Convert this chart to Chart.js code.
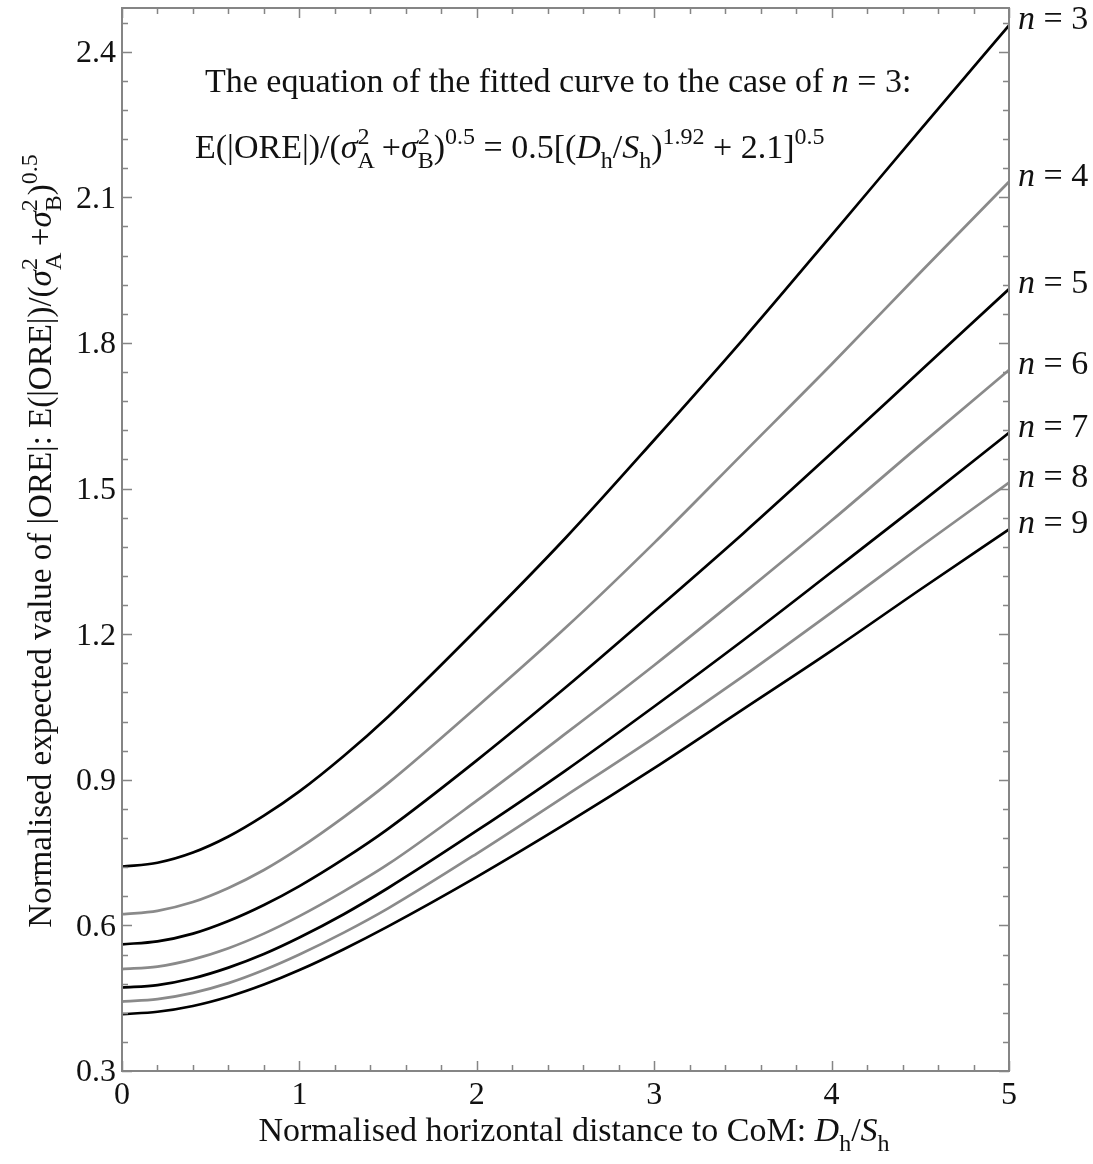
<!DOCTYPE html>
<html>
<head>
<meta charset="utf-8">
<script src="https://cdn.jsdelivr.net/npm/chart.js@4.4.1/dist/chart.umd.min.js"></script>
<style>
  html, body { margin: 0; padding: 0; background: #fff; }
  canvas { display: block; }
</style>
</head>
<body>
<canvas id="oreChart" width="1093" height="1164"></canvas>
<script>
// Normalised horizontal distance D_h/S_h (x positions of the read values)
const distances = [0, 0.2, 0.4, 0.6, 0.8, 1, 1.25, 1.5, 2, 2.5, 3, 3.5, 4, 4.5, 5];

// Normalised expected |ORE| for each number of points n
const oreN3 = [0.721, 0.729, 0.750, 0.783, 0.826, 0.876, 0.949, 1.030, 1.210, 1.398, 1.600, 1.807, 2.022, 2.239, 2.454];
const oreN4 = [0.623, 0.630, 0.648, 0.677, 0.714, 0.759, 0.823, 0.893, 1.050, 1.213, 1.388, 1.572, 1.756, 1.945, 2.132];
const oreN5 = [0.561, 0.567, 0.583, 0.609, 0.642, 0.681, 0.737, 0.799, 0.940, 1.090, 1.247, 1.407, 1.573, 1.742, 1.911];
const oreN6 = [0.510, 0.515, 0.530, 0.553, 0.583, 0.619, 0.670, 0.726, 0.857, 0.995, 1.136, 1.283, 1.434, 1.590, 1.744];
const oreN7 = [0.472, 0.477, 0.491, 0.513, 0.541, 0.575, 0.623, 0.677, 0.795, 0.919, 1.051, 1.187, 1.328, 1.470, 1.615];
const oreN8 = [0.443, 0.448, 0.461, 0.481, 0.508, 0.540, 0.585, 0.635, 0.748, 0.867, 0.987, 1.113, 1.245, 1.380, 1.512];
const oreN9 = [0.417, 0.422, 0.434, 0.453, 0.478, 0.508, 0.551, 0.598, 0.700, 0.809, 0.924, 1.045, 1.166, 1.292, 1.416];

const seriesNames = ['n = 3', 'n = 4', 'n = 5', 'n = 6', 'n = 7', 'n = 8', 'n = 9'];
const seriesValues = [oreN3, oreN4, oreN5, oreN6, oreN7, oreN8, oreN9];

// Axis ticks
const xTicks = [0, 1, 2, 3, 4, 5];
const xTickLabels = ['0', '1', '2', '3', '4', '5'];
const yTicks = [0.3, 0.6, 0.9, 1.2, 1.5, 1.8, 2.1, 2.4];
const yTickLabels = ['0.3', '0.6', '0.9', '1.2', '1.5', '1.8', '2.1', '2.4'];

const FONT = '"Liberation Serif", "Times New Roman", serif';
const BLACK = '#000000';
const GREY = '#8a8a8a';
const FRAME = '#858585';
const TEXT_SIZE = 34;

// rich text helper: parts = [{t, i (italic), s ('sup'|'sub'), k (keep x for stacking)}]
function fontOf(p, size) {
    const sz = p.s ? Math.round(size * 0.72) : size;
    return (p.i ? 'italic ' : '') + sz + 'px ' + FONT;
}

function layoutRich(ctx, parts, size) {
    let x = 0, pending = 0;
    const items = [];
    parts.forEach(p => {
        ctx.font = fontOf(p, size);
        const w = ctx.measureText(p.t).width;
        const dy = p.s === 'sup' ? -size * 0.42 : p.s === 'sub' ? size * 0.3 : 0;
        items.push({ p, x, dy, font: fontOf(p, size) });
        if (p.k) {
            pending = w;
        } else {
            x += Math.max(w, pending);
            pending = 0;
        }
    });
    return { items, width: x };
}

function drawRich(ctx, parts, x, y, size, align) {
    const lay = layoutRich(ctx, parts, size);
    let x0 = x;
    if (align === 'center') x0 = x - lay.width / 2;
    if (align === 'right') x0 = x - lay.width;
    ctx.textAlign = 'left';
    ctx.textBaseline = 'alphabetic';
    lay.items.forEach(it => {
        ctx.font = it.font;
        ctx.fillText(it.p.t, x0 + it.x, y + it.dy);
    });
}

const yTitle = [
    { t: 'Normalised expected value of |ORE|: E(|ORE|)/(' },
    { t: 'σ', i: true },
    { t: '2', s: 'sup', k: true }, { t: 'A', s: 'sub' },
    { t: '\u2009+' },
    { t: 'σ', i: true },
    { t: '2', s: 'sup', k: true }, { t: 'B', s: 'sub' },
    { t: ')' },
    { t: '0.5', s: 'sup' }
];

const xTitle = [
    { t: 'Normalised horizontal distance to CoM: ' },
    { t: 'D', i: true }, { t: 'h', s: 'sub' },
    { t: '/' },
    { t: 'S', i: true }, { t: 'h', s: 'sub' }
];

const noteLine1 = [
    { t: 'The equation of the fitted curve to the case of ' },
    { t: 'n', i: true },
    { t: ' = 3:' }
];

const noteLine2 = [
    { t: 'E(|ORE|)/(' },
    { t: 'σ', i: true },
    { t: '2', s: 'sup', k: true }, { t: 'A', s: 'sub' },
    { t: '\u2009+' },
    { t: 'σ', i: true },
    { t: '2', s: 'sup', k: true }, { t: 'B', s: 'sub' },
    { t: ')' },
    { t: '0.5', s: 'sup' },
    { t: ' = 0.5[(' },
    { t: 'D', i: true }, { t: 'h', s: 'sub' },
    { t: '/' },
    { t: 'S', i: true }, { t: 'h', s: 'sub' },
    { t: ')' },
    { t: '1.92', s: 'sup' },
    { t: ' + 2.1]' },
    { t: '0.5', s: 'sup' }
];

// frame, inward ticks, labels and texts
const framePlugin = {
    id: 'framePlugin',
    afterDraw(chart) {
        const ctx = chart.ctx;
        const area = chart.chartArea;
        const xs = chart.scales.x;
        const ys = chart.scales.y;
        ctx.save();

        ctx.strokeStyle = FRAME;
        ctx.lineWidth = 2;
        ctx.strokeRect(area.left, area.top, area.right - area.left, area.bottom - area.top);

        // x ticks (bottom and top), minor every 0.2
        ctx.lineWidth = 1.5;
        for (let i = 0; i <= 25; i++) {
            const v = i * 0.2;
            const px = Math.round(xs.getPixelForValue(v)) + 0.5;
            const len = i % 5 === 0 ? 10 : 6;
            ctx.beginPath();
            ctx.moveTo(px, area.bottom); ctx.lineTo(px, area.bottom - len);
            ctx.moveTo(px, area.top); ctx.lineTo(px, area.top + len);
            ctx.stroke();
        }
        // y ticks (left and right), minor every 0.06
        for (let i = 0; ; i++) {
            const v = 0.3 + i * 0.06;
            if (v > ys.max + 1e-9) break;
            const py = Math.round(ys.getPixelForValue(v)) + 0.5;
            const len = i % 5 === 0 ? 10 : 6;
            ctx.beginPath();
            ctx.moveTo(area.left, py); ctx.lineTo(area.left + len, py);
            ctx.moveTo(area.right, py); ctx.lineTo(area.right - len, py);
            ctx.stroke();
        }

        ctx.fillStyle = '#111';
        ctx.font = '32px ' + FONT;
        ctx.textAlign = 'center';
        ctx.textBaseline = 'top';
        xTicks.forEach((v, i) => {
            ctx.fillText(xTickLabels[i], xs.getPixelForValue(v), area.bottom + 9);
        });
        ctx.textAlign = 'right';
        ctx.textBaseline = 'middle';
        yTicks.forEach((v, i) => {
            ctx.fillText(yTickLabels[i], area.left - 6, ys.getPixelForValue(v) + 2);
        });

        // axis titles
        drawRich(ctx, xTitle, 574, 1141, TEXT_SIZE, 'center');
        ctx.save();
        ctx.translate(51, 541);
        ctx.rotate(-Math.PI / 2);
        drawRich(ctx, yTitle, 0, 0, 33, 'center');
        ctx.restore();

        // equation note
        drawRich(ctx, noteLine1, 205, 92, TEXT_SIZE, 'left');
        drawRich(ctx, noteLine2, 195, 158, TEXT_SIZE, 'left');

        // series labels beside the right axis
        seriesValues.forEach((vals, i) => {
            const py = ys.getPixelForValue(vals[vals.length - 1]) - 5;
            ctx.textBaseline = 'middle';
            const parts = [{ t: 'n', i: true }, { t: seriesNames[i].slice(1) }];
            const lay = layoutRich(ctx, parts, TEXT_SIZE);
            ctx.textAlign = 'left';
            lay.items.forEach(it => {
                ctx.font = it.font;
                ctx.fillText(it.p.t, area.right + 9 + it.x, py);
            });
        });

        ctx.restore();
    }
};

const datasets = seriesValues.map((vals, i) => ({
    label: seriesNames[i],
    data: distances.map((d, j) => ({ x: d, y: vals[j] })),
    borderColor: i % 2 === 0 ? BLACK : GREY,
    borderWidth: 2.7,
    pointRadius: 0,
    fill: false,
    cubicInterpolationMode: 'monotone'
}));

new Chart(document.getElementById('oreChart').getContext('2d'), {
    type: 'line',
    data: { datasets: datasets },
    plugins: [framePlugin],
    options: {
        responsive: false,
        animation: false,
        layout: { padding: { left: 122, right: 84, top: 8, bottom: 93 } },
        scales: {
            x: { type: 'linear', min: 0, max: 5, display: false },
            y: { type: 'linear', min: 0.3, max: 2.49, display: false }
        },
        plugins: {
            legend: { display: false },
            tooltip: { enabled: false }
        }
    }
});
</script>
</body>
</html>
